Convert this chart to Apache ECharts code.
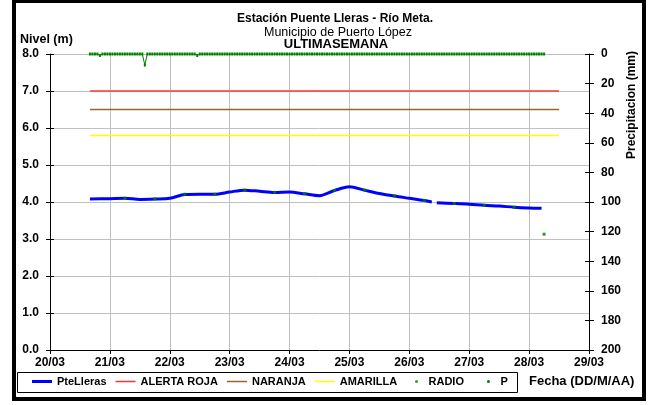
<!DOCTYPE html>
<html>
<head>
<meta charset="utf-8">
<script src="https://cdn.jsdelivr.net/npm/echarts@6/dist/echarts.min.js"></script>
<style>
  html, body { margin: 0; padding: 0; background: #fff; }
  #chart { width: 648px; height: 405px; }
</style>
</head>
<body>
<div id="chart"></div>
<script>
// Day ticks along the date axis (March)
const xTickLabels = ['20/03', '21/03', '22/03', '23/03', '24/03', '25/03', '26/03', '27/03', '28/03', '29/03'];

// River level at Puente Lleras: hours after 20/03 00:00 and level in metres (null = gap in record)
const levelHours  = [16, 24, 30, 36, 42, 48, 54, 60, 66, 72, 78, 84, 90, 96, 102, 108, 114, 120, 126, 132, 138, 144, 150, 153, 154, 155, 162, 168, 174, 180, 186, 192, 197];
const levelValues = [4.08, 4.09, 4.10, 4.07, 4.08, 4.10, 4.20, 4.21, 4.21, 4.27, 4.32, 4.29, 4.26, 4.27, 4.22, 4.17, 4.31, 4.41, 4.32, 4.23, 4.16, 4.10, 4.04, 4.00, null, 3.98, 3.96, 3.94, 3.91, 3.89, 3.86, 3.84, 3.83];

// Radio readings (twice a day)
const radioHours  = [30, 42, 54, 66, 78, 90, 102, 114, 126, 138, 150, 162, 174, 186, 198];
const radioValues = [4.10, 4.08, 4.21, 4.21, 4.32, 4.26, 4.22, 4.31, 4.32, 4.16, 4.04, 3.96, 3.91, 3.86, 3.13];

// Alert thresholds (m) and the span they are drawn over (hours)
const alertRoja = 7.0;
const alertNaranja = 6.5;
const alertAmarilla = 5.8;
const alertSpanHours = [16, 204];

// Hourly precipitation (mm), first reading at hour 16 of 20/03
const precipStartHour = 16;
const precipValues = [
  /* 20/03 16-23 */ 0, 0, 0, 0, 1.0, 0, 0, 0,
  /* 21/03 */ 0, 0, 0, 0, 0, 0, 0, 0, 0, 0, 0, 0, 0, 0, 7.5, 0, 0, 0, 0, 0, 0, 0, 0, 0,
  /* 22/03 */ 0, 0, 0, 0, 0, 0, 0, 0, 0, 0, 0, 1.0, 0, 0, 0, 0, 0, 0, 0, 0, 0, 0, 0, 0,
  /* 23/03 */ 0, 0, 0, 0, 0, 0, 0, 0, 0, 0, 0, 0, 0, 0, 0, 0, 0, 0, 0, 0, 0, 0, 0, 0,
  /* 24/03 */ 0, 0, 0, 0, 0, 0, 0, 0, 0, 0, 0, 0, 0, 0, 0, 0, 0, 0, 0, 0, 0, 0, 0, 0,
  /* 25/03 */ 0, 0, 0, 0, 0, 0, 0, 0, 0, 0, 0, 0, 0, 0, 0, 0, 0, 0, 0, 0, 0, 0, 0, 0,
  /* 26/03 */ 0, 0, 0, 0, 0, 0, 0, 0, 0, 0, 0, 0, 0, 0, 0, 0, 0, 0, 0, 0, 0, 0, 0, 0,
  /* 27/03 */ 0, 0, 0, 0, 0, 0, 0, 0, 0, 0, 0, 0, 0, 0, 0, 0, 0, 0, 0, 0, 0, 0, 0, 0,
  /* 28/03 00-06 */ 0, 0, 0, 0, 0, 0, 0
];

// hours since 20/03 00:00 -> day value on the date axis
const toDay = h => 20 + h / 24;
const pairs = (hours, values) => hours.map((h, i) => [toDay(h), values[i]]);
const flat = v => alertSpanHours.map(h => [toDay(h), v]);
const precipData = precipValues.map((v, i) => [toDay(precipStartHour + i), v]);

const FONT = 'Liberation Sans, Arial, sans-serif';
const chart = echarts.init(document.getElementById('chart'), null, { renderer: 'canvas' });

// short tick marks drawn on the inner side of an axis, so ticks cross the axis line
const innerTicks = { show: true, inside: true, length: 4, lineStyle: { color: '#000' } };
const labelStyle = { fontSize: 12, fontWeight: 'bold', color: '#000', fontFamily: FONT };
const legendText = { fontSize: 11, fontWeight: 'bold', color: '#000', fontFamily: FONT };
const thinLine = 'path://M0,0H20V1.5H0Z';

chart.setOption({
  backgroundColor: '#ffffff',
  animation: false,
  textStyle: { fontFamily: FONT },
  title: [
    { text: 'Estación Puente Lleras - Río Meta.', left: 330, top: 8, textAlign: 'center',
      textStyle: { fontSize: 12, fontWeight: 'bold', color: '#000' } },
    { text: 'Municipio de Puerto López', left: 333, top: 21, textAlign: 'center',
      textStyle: { fontSize: 12.5, fontWeight: 'normal', color: '#000' } },
    { text: 'ULTIMASEMANA', left: 331, top: 33, textAlign: 'center',
      textStyle: { fontSize: 13, fontWeight: 'bold', color: '#000' } }
  ],
  grid: { left: 50, right: 59, top: 54, bottom: 55, containLabel: false },
  legend: [
    {
      // line series
      left: 17, top: 372, padding: [4, 0, 4, 15], itemGap: 9,
      itemWidth: 20, itemHeight: 3, textStyle: legendText,
      data: [
        { name: 'PteLleras', icon: 'rect' },
        { name: 'ALERTA ROJA', icon: thinLine },
        { name: 'NARANJA', icon: thinLine },
        { name: 'AMARILLA', icon: thinLine }
      ]
    },
    {
      // point series
      left: 415, top: 372, padding: [4, 0, 4, 0], itemGap: 23,
      itemWidth: 14, itemHeight: 3, textStyle: legendText,
      data: [
        { name: 'RADIO', icon: 'circle' },
        { name: 'P', icon: 'circle' }
      ]
    }
  ],
  xAxis: {
    type: 'value', min: 20, max: 29, interval: 1,
    axisLine: { lineStyle: { color: '#000', width: 1 } },
    axisTick: { show: true, length: 4, lineStyle: { color: '#000' } },
    axisLabel: Object.assign({ margin: 7, formatter: v => xTickLabels[Math.round(v - 20)] || '' }, labelStyle),
    splitLine: { show: true, lineStyle: { color: '#c0c0c0', width: 1 } }
  },
  yAxis: [
    {
      type: 'value', min: 0, max: 8, interval: 1, position: 'left',
      axisLine: { show: true, lineStyle: { color: '#000', width: 1 } },
      axisTick: { show: true, length: 4, lineStyle: { color: '#000' } },
      axisLabel: Object.assign({ margin: 11, formatter: v => v.toFixed(1) }, labelStyle),
      splitLine: { show: true, lineStyle: { color: '#c0c0c0', width: 1 } }
    },
    {
      type: 'value', min: 0, max: 200, interval: 20, position: 'right', inverse: true,
      axisLine: { show: true, lineStyle: { color: '#000', width: 1 } },
      axisTick: { show: true, length: 5, lineStyle: { color: '#000' } },
      axisLabel: Object.assign({ margin: 12 }, labelStyle),
      splitLine: { show: false }
    },
    {
      type: 'value', min: 0, max: 8, interval: 1, position: 'left',
      axisLine: { show: false }, axisTick: innerTicks, axisLabel: { show: false }, splitLine: { show: false }
    },
    {
      type: 'value', min: 0, max: 200, interval: 20, position: 'right', inverse: true,
      axisLine: { show: false }, axisTick: innerTicks, axisLabel: { show: false }, splitLine: { show: false }
    }
  ],
  graphic: [
    { type: 'rect', shape: { x: 14, y: 1, width: 630, height: 398 }, silent: true,
      style: { fill: 'none', stroke: '#000', lineWidth: 4 } },
    // legend frame
    { type: 'rect', shape: { x: 17.5, y: 372.5, width: 500, height: 20 }, silent: true,
      style: { fill: 'none', stroke: '#000', lineWidth: 1 } },
    { type: 'text', left: 20, top: 33,
      style: { text: 'Nivel (m)', font: 'bold 12.5px ' + FONT, fill: '#000' } },
    { type: 'text', x: 632, y: 105, rotation: Math.PI / 2,
      style: { text: 'Precipitacion (mm)', font: 'bold 12px ' + FONT, fill: '#000', align: 'center', verticalAlign: 'middle' } },
    { type: 'text', left: 529, top: 375,
      style: { text: 'Fecha (DD/M/AA)', font: 'bold 13px ' + FONT, fill: '#000' } }
  ],
  series: [
    {
      name: 'PteLleras', type: 'line', yAxisIndex: 0, z: 3,
      data: pairs(levelHours, levelValues), connectNulls: false,
      smooth: 0.3, showSymbol: false, symbol: 'none',
      lineStyle: { color: '#0000ff', width: 3 }, itemStyle: { color: '#0000ff' }
    },
    {
      name: 'ALERTA ROJA', type: 'line', yAxisIndex: 0, z: 2, data: flat(alertRoja), symbol: 'none',
      lineStyle: { color: '#ff3333', width: 1.5 }, itemStyle: { color: '#ff3333' }
    },
    {
      name: 'NARANJA', type: 'line', yAxisIndex: 0, z: 2, data: flat(alertNaranja), symbol: 'none',
      lineStyle: { color: '#996633', width: 1.5 }, itemStyle: { color: '#996633' }
    },
    {
      name: 'AMARILLA', type: 'line', yAxisIndex: 0, z: 2, data: flat(alertAmarilla), symbol: 'none',
      lineStyle: { color: '#ffff00', width: 1.5 }, itemStyle: { color: '#ffff00' }
    },
    {
      name: 'RADIO', type: 'scatter', yAxisIndex: 0, z: 4,
      data: pairs(radioHours, radioValues),
      symbol: 'rect', symbolSize: 3, itemStyle: { color: '#008000' }
    },
    {
      name: 'P', type: 'line', yAxisIndex: 1, z: 4,
      data: precipData,
      symbol: 'rect', symbolSize: [2, 3], showAllSymbol: true, showSymbol: true,
      lineStyle: { color: '#008000', width: 1 }, itemStyle: { color: '#008000' }
    }
  ]
});
</script>
</body>
</html>
